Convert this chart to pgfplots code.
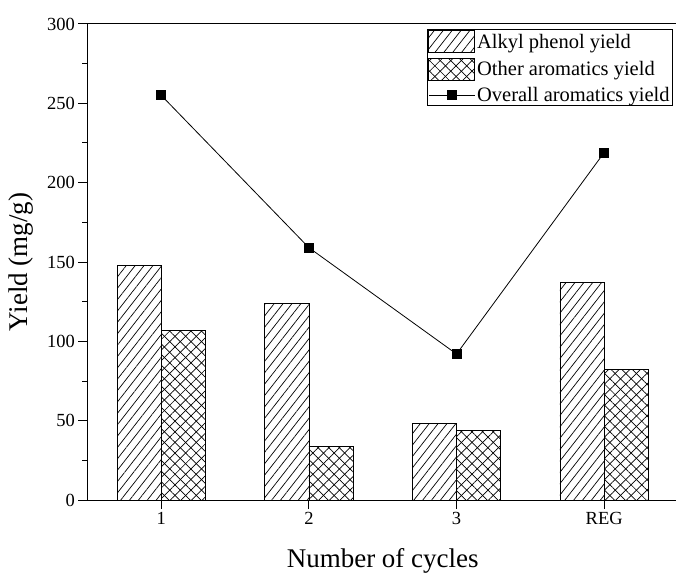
\documentclass[border=0pt]{standalone}
\usepackage{fontspec}
\setmainfont{Liberation Serif}
\usepackage{pgfplots}
\pgfplotsset{compat=1.18}
\usetikzlibrary{patterns.meta}
\pgfplotsset{
  barleg/.style={legend image code/.code={\draw[##1] (0pt,-11pt) rectangle (46pt,11pt);}},
  lineleg/.style={legend image code/.code={\draw[mark repeat=2,mark phase=2,##1] plot coordinates {(0pt,0pt) (23pt,0pt) (46pt,0pt)};}},
}
\begin{document}
\begin{tikzpicture}
\begin{axis}[
  scale only axis,
  width=590.5pt, height=476pt,
  xmin=0.5, xmax=4.5,
  ymin=0, ymax=300,
  xtick={1,2,3,4},
  xticklabels={1,2,3,REG},
  ytick={0,50,...,300},
  minor y tick num=1,
  xtick pos=bottom, ytick pos=left,
  tick align=outside,
  major tick length=9pt,
  minor tick length=5pt,
  axis line style={line width=1pt},
  every tick/.style={line width=1pt, black},
  /pgf/number format/assume math mode=true,
  ticklabel style={font=\fontsize{18.5}{20}\selectfont},
  xlabel={Number of cycles},
  ylabel={Yield (mg/g)},
  xlabel style={font=\fontsize{27}{30}\selectfont, at={(axis description cs:0.5,0)}, anchor=base, yshift=-67pt},
  ylabel style={font=\fontsize{27}{30}\selectfont, at={(axis description cs:-0.1126,0.5)}, anchor=center},
  legend style={at={(1,1)}, anchor=north east, xshift=-5pt, yshift=-5pt,
    draw=black, line width=0.9pt, font=\fontsize{20.5}{22}\selectfont,
    inner sep=1pt, row sep=4.5pt},
  legend cell align=left,
]
\addplot[ybar, bar width=0.3, bar shift=-0.15, draw=black, line width=0.8pt,
  pattern={Lines[angle=52,distance=7pt,line width=0.7pt]}, pattern color=black, barleg]
  coordinates {(1,148) (2,124) (3,48) (4,137)};
\addlegendentry{Alkyl phenol yield}
\addplot[ybar, bar width=0.3, bar shift=0.15, draw=black, line width=0.8pt,
  pattern={Lines[angle=45,distance=7.5pt,line width=0.7pt]}, pattern color=black,
  postaction={pattern={Lines[angle=-45,distance=7.5pt,line width=0.7pt]}, pattern color=black}, barleg]
  coordinates {(1,107) (2,34) (3,44) (4,82)};
\addlegendentry{Other aromatics yield}
\addplot[sharp plot, black, line width=0.8pt, mark=square*, mark size=4.5pt,
  mark options={solid, fill=black}, lineleg]
  coordinates {(1,255) (2,159) (3,92) (4,219)};
\addlegendentry{Overall aromatics yield}
\end{axis}
\pgfresetboundingbox
\path[use as bounding box] ([xshift=-87.5pt,yshift=-75pt]current axis.south west) rectangle ([xshift=-2pt,yshift=24pt]current axis.north east);
\end{tikzpicture}
\end{document}
